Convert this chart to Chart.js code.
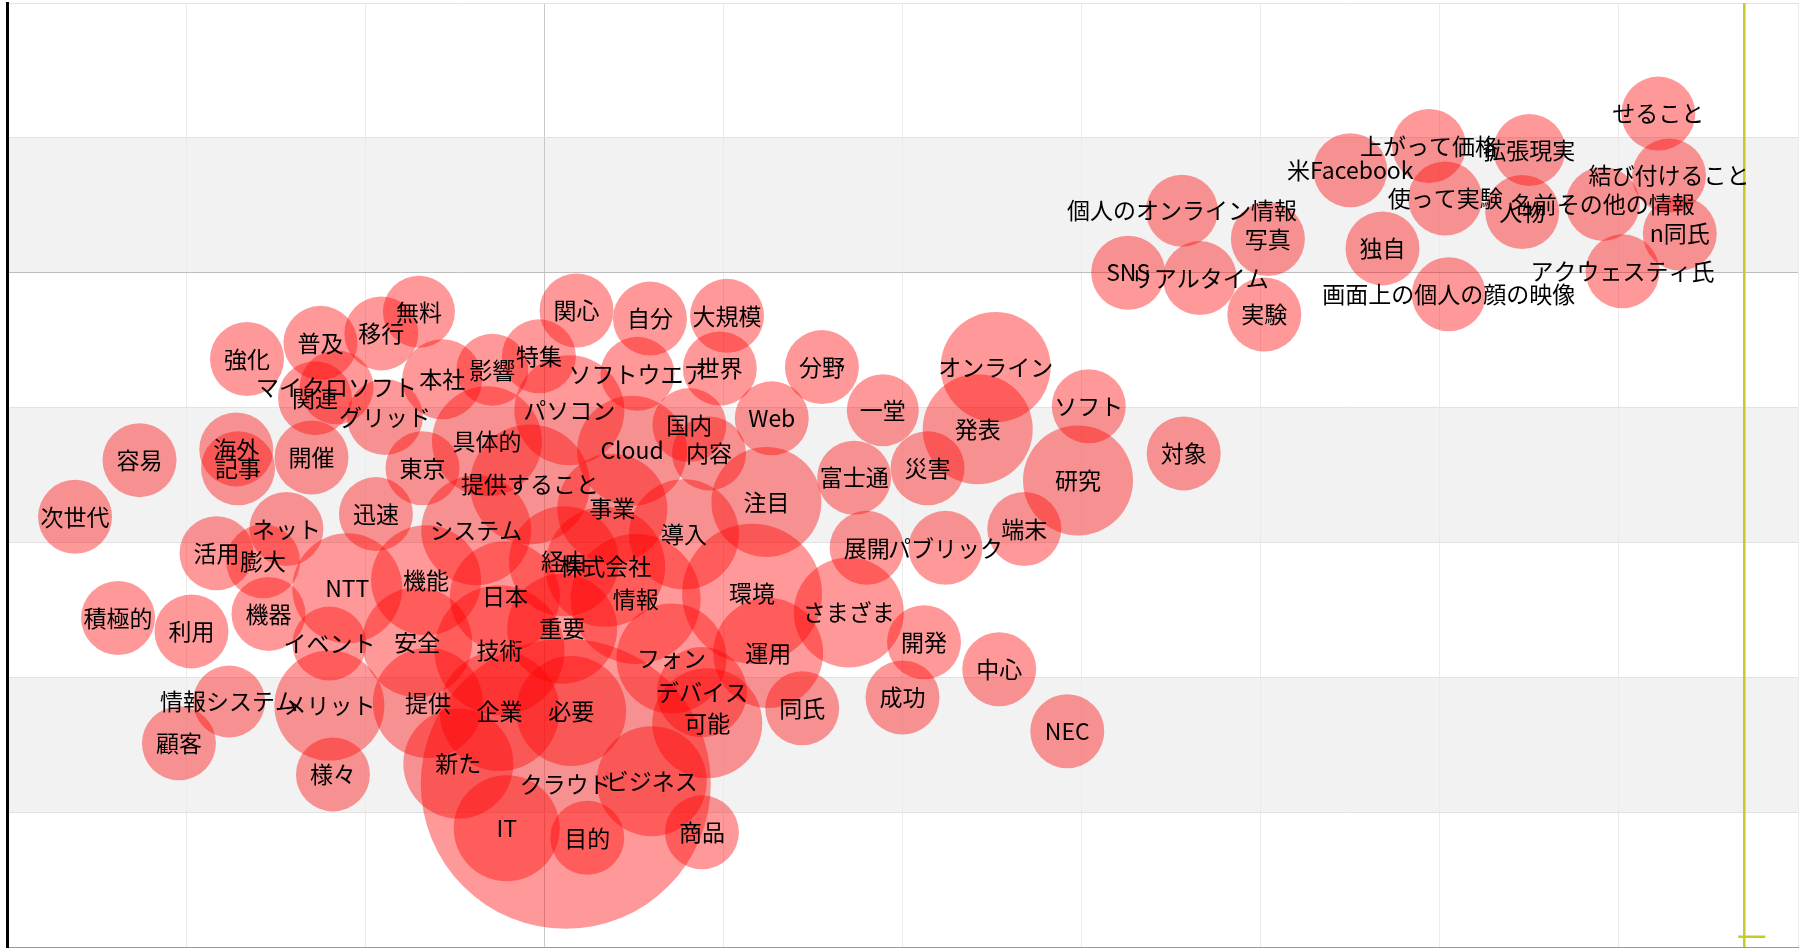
<!DOCTYPE html>
<html>
<head>
<meta charset="utf-8">
<script src="https://cdn.jsdelivr.net/npm/chart.js@4/dist/chart.umd.min.js"></script>
<style>
  html,body{margin:0;padding:0;background:#fff;}
  #wrap{width:1812px;height:948px;}
</style>
</head>
<body>
<div id="wrap"><canvas id="c"></canvas></div>
<script>
// words and their map positions (x, y) plus bubble radius in px
const words = [
  "強化","普及","移行","無料","マイクロソフト","関連","本社","影響","特集","関心",
  "自分","大規模","ソフトウエア","世界","分野","オンライン","グリッド","パソコン","国内","Web",
  "一堂","発表","ソフト","容易","海外","記事","開催","具体的","Cloud","内容",
  "東京","提供すること","富士通","災害","研究","対象","次世代","迅速","システム","事業",
  "注目","導入","ネット","活用","膨大","NTT","機能","経由","株式会社","展開",
  "パブリック","端末","積極的","利用","機器","日本","情報","環境","さまざま","重要",
  "イベント","安全","技術","フォン","運用","開発","中心","情報システム","メリット","提供",
  "企業","必要","デバイス","可能","同氏","成功","NEC","顧客","様々","新た",
  "クラウド","ビジネス","IT","目的","商品",
  "せること","上がって価格","拡張現実","米Facebook","結び付けること","使って実験","名前その他の情報","人物","個人のオンライン情報","n同氏",
  "写真","独自","アクウェスティ氏","SNS","リアルタイム","画面上の個人の顔の映像","実験"
];
const xs = [
  -1.66,-1.25,-0.91,-0.70,-1.16,-1.28,-0.57,-0.29,-0.03,0.18,
  0.59,1.02,0.52,0.98,1.55,2.52,-0.89,0.14,0.81,1.27,
  1.89,2.42,3.04,-2.26,-1.72,-1.71,-1.30,-0.32,0.49,0.92,
  -0.68,-0.08,1.73,2.14,2.98,3.57,-2.62,-0.94,-0.38,0.38,
  1.24,0.78,-1.44,-1.83,-1.57,-1.10,-0.66,0.11,0.34,1.80,
  2.24,2.68,-2.38,-1.97,-1.54,-0.22,0.51,1.16,1.70,0.10,
  -1.20,-0.71,-0.25,0.71,1.25,2.12,2.54,-1.76,-1.20,-0.65,
  -0.25,0.15,0.88,0.91,1.44,2.00,2.92,-2.04,-1.18,-0.48,
  0.12,0.60,-0.21,0.24,0.88,
  6.22,4.94,5.50,4.50,6.28,5.03,5.91,5.46,3.56,6.34,
  4.04,4.68,6.02,3.26,3.66,5.05,4.02
];
const ys = [
  -0.64,-0.52,-0.45,-0.29,-0.85,-0.93,-0.79,-0.72,-0.62,-0.28,
  -0.34,-0.32,-0.75,-0.71,-0.70,-0.70,-1.07,-1.02,-1.13,-1.08,
  -1.02,-1.16,-0.99,-1.39,-1.31,-1.45,-1.37,-1.25,-1.32,-1.34,
  -1.45,-1.57,-1.52,-1.45,-1.54,-1.34,-1.81,-1.79,-1.91,-1.75,
  -1.70,-1.94,-1.90,-2.08,-2.14,-2.34,-2.28,-2.14,-2.18,-2.04,
  -2.04,-1.90,-2.56,-2.66,-2.53,-2.40,-2.42,-2.38,-2.52,-2.64,
  -2.75,-2.74,-2.80,-2.86,-2.82,-2.74,-2.94,-3.18,-3.21,-3.19,
  -3.25,-3.25,-3.11,-3.34,-3.23,-3.15,-3.40,-3.49,-3.72,-3.64,
  -3.79,-3.77,-4.12,-4.19,-4.15,
  1.18,0.94,0.91,0.76,0.72,0.55,0.51,0.45,0.46,0.29,
  0.25,0.18,0.01,0.00,-0.04,-0.16,-0.31
];
const sizes = [
  37,37,37,36,37,37,40,36,37,37,
  37,37,37,37,37,55,38,55,37,37,
  36,55,37,37,37,37,37,55,55,37,
  37,60,37,37,55,37,37,37,55,55,
  55,55,37,37,37,55,55,55,60,37,
  37,37,37,37,37,55,65,70,55,55,
  37,55,65,55,55,37,37,36,55,55,
  60,55,45,55,37,37,37,37,37,55,
  145,55,53,37,37,
  37,37,36,37,37,37,37,37,36,37,
  37,37,37,37,37,37,37
];
// yellow marker line on the right
const markerXs = [6.70, 6.70];
const markerYs = [2, -5];
const tickXs = [6.667, 6.817];
const tickYs = [-4.924, -4.924];

const bubbles = words.map((w,i)=>({x:xs[i], y:ys[i], r:sizes[i]}));

const bands = {
  id:"bands",
  beforeDraw(chart){
    const {ctx, chartArea:a, scales:{y}} = chart;
    ctx.save();
    ctx.fillStyle = "#f2f2f2";
    for(let i=1;i<y.ticks.length-1;i+=2){
      const top = y.getPixelForValue(y.ticks[i+1].value);
      const bot = y.getPixelForValue(y.ticks[i].value);
      ctx.fillRect(a.left, top, a.right-a.left, bot-top);
    }
    ctx.restore();
  }
};

const labels = {
  id:"labels",
  afterDatasetsDraw(chart){
    const ctx = chart.ctx;
    const meta = chart.getDatasetMeta(0);
    ctx.save();
    ctx.font = '23px "Noto Sans CJK JP"';
    ctx.fillStyle = "#000";
    ctx.textAlign = "center";
    ctx.textBaseline = "middle";
    meta.data.forEach((el,i)=>{ ctx.fillText(words[i], el.x, el.y); });
    ctx.restore();
  }
};

new Chart(document.getElementById("c"), {
  type:"bubble",
  data:{
    datasets:[
      { data:bubbles, backgroundColor:"rgba(255,0,0,0.4)", borderWidth:0, hoverBorderWidth:0 },
      { type:"line", data:markerXs.map((x,i)=>({x, y:markerYs[i]})), borderColor:"#c9c92a", borderWidth:2.5, pointRadius:0, fill:false },
      { type:"line", data:tickXs.map((x,i)=>({x, y:tickYs[i]})), borderColor:"#c9c92a", borderWidth:2.5, pointRadius:0, fill:false }
    ]
  },
  options:{
    responsive:true, maintainAspectRatio:false, animation:false, events:[],
    layout:{ autoPadding:false, padding:{left:7, right:14, top:3, bottom:1} },
    plugins:{ legend:{display:false}, tooltip:{enabled:false} },
    scales:{
      x:{ type:"linear", min:-3, max:7,
          ticks:{display:false, stepSize:1},
          grid:{drawTicks:false, color:c=>c.tick && c.tick.value===0 ? "#c8c8c8" : "#ebebeb"},
          border:{color:"#999", width:1} },
      y:{ type:"linear", min:-5, max:2,
          ticks:{display:false, stepSize:1},
          grid:{drawTicks:false, color:c=>c.tick && c.tick.value===0 ? "#bdbdbd" : "#e2e2e2"},
          border:{color:"#000", width:3} }
    }
  },
  plugins:[bands, labels]
});
</script>
</body>
</html>
